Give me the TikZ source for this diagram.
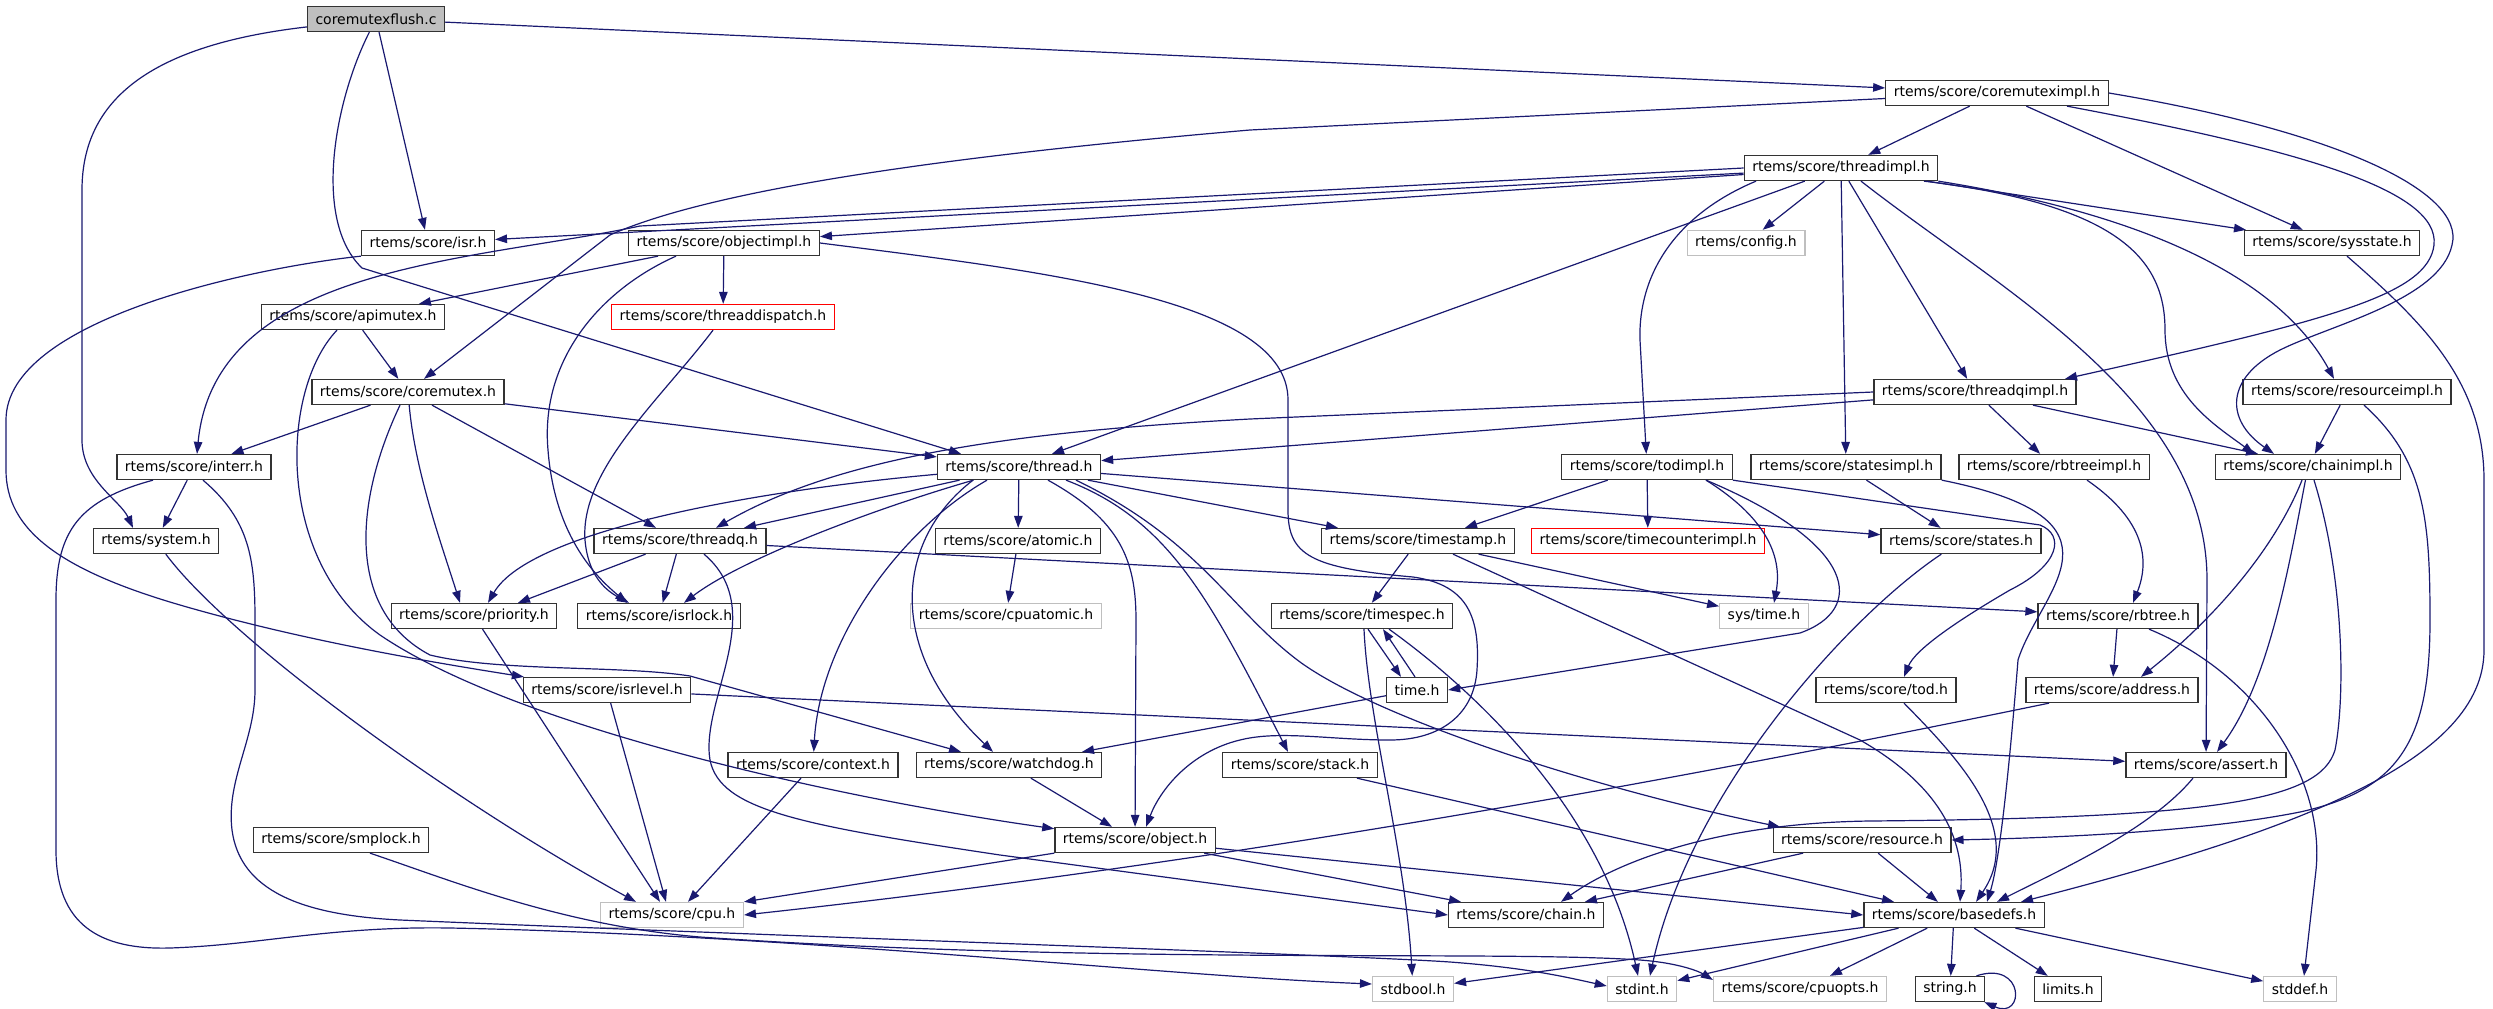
\documentclass[tikz,border=0pt]{standalone}
\usepackage{fontspec}
\setmainfont{DejaVu Sans}
\usetikzlibrary{arrows.meta}
\definecolor{edgeblue}{RGB}{25,25,112}
\definecolor{boxgrey}{RGB}{191,191,191}
\begin{document}
\begin{tikzpicture}[>={Triangle[length=12pt,width=8.5pt]},x=1pt,y=-1pt,
  inc/.style={draw=black!80,line width=1.3pt,fill=white,inner xsep=8pt,inner ysep=0pt,minimum height=25pt,font=\fontsize{14pt}{16pt}\selectfont},
  ext/.style={inc,draw=boxgrey},
  cut/.style={inc,draw=red},
  root/.style={inc,fill=boxgrey},
  dep/.style={->,draw=edgeblue,line width=1.2pt}]
\useasboundingbox[fill=white] (0,0) rectangle (2493,1009);
\node[root] (flush) at (376,19) {coremutexflush.c};
\node[inc] (cmi) at (1997,93) {rtems/score/coremuteximpl.h};
\node[inc] (thi) at (1841,168) {rtems/score/threadimpl.h};
\node[inc] (isr) at (428,243) {rtems/score/isr.h};
\node[inc] (obi) at (724,243) {rtems/score/objectimpl.h};
\node[ext] (cfg) at (1746,243) {rtems/config.h};
\node[inc] (sysst) at (2332,243) {rtems/score/sysstate.h};
\node[inc] (api) at (353,317) {rtems/score/apimutex.h};
\node[cut] (tdisp) at (723,317) {rtems/score/threaddispatch.h};
\node[inc] (coremutex) at (408,392) {rtems/score/coremutex.h};
\node[inc] (tqi) at (1975,392) {rtems/score/threadqimpl.h};
\node[inc] (rsi) at (2347,392) {rtems/score/resourceimpl.h};
\node[inc] (interr) at (194,467) {rtems/score/interr.h};
\node[inc] (thread) at (1019,467) {rtems/score/thread.h};
\node[inc] (todi) at (1647,467) {rtems/score/todimpl.h};
\node[inc] (statesi) at (1846,467) {rtems/score/statesimpl.h};
\node[inc] (rbti) at (2054,467) {rtems/score/rbtreeimpl.h};
\node[inc] (chaini) at (2308,467) {rtems/score/chainimpl.h};
\node[inc] (system) at (156,541) {rtems/system.h};
\node[inc] (threadq) at (680,541) {rtems/score/threadq.h};
\node[inc] (atomic) at (1018,541) {rtems/score/atomic.h};
\node[inc] (tstamp) at (1418,541) {rtems/score/timestamp.h};
\node[cut] (tcounter) at (1648,541) {rtems/score/timecounterimpl.h};
\node[inc] (states) at (1961,541) {rtems/score/states.h};
\node[inc] (prio) at (474,616) {rtems/score/priority.h};
\node[inc] (isrlock) at (659,616) {rtems/score/isrlock.h};
\node[ext] (cpuatomic) at (1006,616) {rtems/score/cpuatomic.h};
\node[inc] (tspec) at (1362,616) {rtems/score/timespec.h};
\node[ext] (systime) at (1764,616) {sys/time.h};
\node[inc] (rbtree) at (2118,616) {rtems/score/rbtree.h};
\node[inc] (isrlevel) at (607,690) {rtems/score/isrlevel.h};
\node[inc] (timeh) at (1417,690) {time.h};
\node[inc] (tod) at (1886,690) {rtems/score/tod.h};
\node[inc] (address) at (2112,690) {rtems/score/address.h};
\node[inc] (context) at (813,765) {rtems/score/context.h};
\node[inc] (watchdog) at (1009,765) {rtems/score/watchdog.h};
\node[inc] (stack) at (1300,765) {rtems/score/stack.h};
\node[inc] (assert) at (2206,765) {rtems/score/assert.h};
\node[inc] (smplock) at (341,840) {rtems/score/smplock.h};
\node[inc] (object) at (1135,840) {rtems/score/object.h};
\node[inc] (resource) at (1862,840) {rtems/score/resource.h};
\node[ext] (cpu) at (672,915) {rtems/score/cpu.h};
\node[inc] (chain) at (1526,915) {rtems/score/chain.h};
\node[inc] (basedefs) at (1954,915) {rtems/score/basedefs.h};
\node[ext] (stdbool) at (1413,989) {stdbool.h};
\node[ext] (stdint) at (1642,989) {stdint.h};
\node[ext] (cpuopts) at (1800,989) {rtems/score/cpuopts.h};
\node[inc] (string) at (1950,989) {string.h};
\node[inc] (limits) at (2068,989) {limits.h};
\node[ext] (stddef) at (2300,989) {stddef.h};
\draw[dep] (flush) .. controls (150,45) and (82,100) .. (82,190) -- (82,440) .. controls (82,480) and (120,500) .. ([xshift=-23pt]system.north);
\draw[dep] (flush) -- (isr);
\draw[dep] (flush) .. controls (335,100) and (312,220) .. (362,268) -- ([xshift=-58pt]thread.north);
\draw[dep] (flush) -- (cmi);
\draw[dep] (cmi) -- (1250,130) .. controls (900,160) and (700,195) .. (610,235) -- ([xshift=16pt]coremutex.north);
\draw[dep] (cmi) -- (thi);
\draw[dep] (cmi) -- (sysst);
\draw[dep] ([xshift=70pt]cmi.south) .. controls (2300,150) and (2440,190) .. (2434,245) .. controls (2428,295) and (2330,320) .. ([xshift=90pt]tqi.north);
\draw[dep] (cmi.east) .. controls (2330,130) and (2466,190) .. (2452,245) .. controls (2440,300) and (2330,325) .. (2280,350) .. controls (2225,378) and (2225,420) .. ([xshift=-34pt]chaini.north);
\draw[dep] (thi) -- (isr);
\draw[dep] (thi.west) -- (640,226) .. controls (470,262) and (215,265) .. ([xshift=3pt]interr.north);
\draw[dep] (thi) -- (obi);
\draw[dep] (thi) -- ([xshift=33pt]thread.north);
\draw[dep] ([xshift=-85pt]thi.south) .. controls (1675,215) and (1638,275) .. (1640,340) -- (todi);
\draw[dep] (thi) -- (cfg);
\draw[dep] (thi) -- (statesi);
\draw[dep] (thi) -- (tqi);
\draw[dep] ([xshift=20pt]thi.south) .. controls (2000,290) and (2207,400) .. (2207,580) -- (assert);
\draw[dep] ([xshift=83pt]thi.south) .. controls (2120,205) and (2165,260) .. (2165,330) .. controls (2165,395) and (2215,425) .. ([xshift=-54pt]chaini.north);
\draw[dep] (thi.south east) .. controls (2150,215) and (2280,280) .. ([xshift=-13pt]rsi.north);
\draw[dep] (thi) -- (sysst);
\draw[dep] (isr.south west) .. controls (250,268) and (6,320) .. (6,420) -- (6,470) .. controls (6,530) and (60,570) .. (180,605) .. controls (300,640) and (430,662) .. (isrlevel);
\draw[dep] (obi) -- (tdisp);
\draw[dep] (obi) -- (api);
\draw[dep] ([xshift=-48pt]obi.south) .. controls (600,290) and (540,360) .. (548,450) .. controls (555,540) and (600,580) .. ([xshift=-32pt]isrlock.north);
\draw[dep] (obi.east) .. controls (1050,272) and (1288,300) .. (1288,400) -- (1288,510) .. controls (1288,555) and (1310,568) .. (1413,577) .. controls (1470,585) and (1480,620) .. (1477,670) .. controls (1474,715) and (1440,740) .. (1390,740) .. controls (1330,740) and (1280,730) .. (1240,740) .. controls (1190,752) and (1160,790) .. ([xshift=11pt]object.north);
\draw[dep] (tdisp) .. controls (660,400) and (580,470) .. (585,540) .. controls (588,575) and (605,590) .. ([xshift=-30pt]isrlock.north);
\draw[dep] (api) -- (coremutex);
\draw[dep] ([xshift=-16pt]api.south) .. controls (280,390) and (275,560) .. (380,635) .. controls (520,730) and (850,800) .. (object);
\draw[dep] (coremutex) -- (interr);
\draw[dep] (coremutex) .. controls (415,470) and (440,540) .. ([xshift=-14pt]prio.north);
\draw[dep] (coremutex) -- (thread);
\draw[dep] ([xshift=24pt]coremutex.south) -- ([xshift=-24pt]threadq.north);
\draw[dep] ([xshift=-8pt]coremutex.south) .. controls (355,500) and (345,610) .. (430,655) .. controls (500,672) and (620,665) .. (690,676) -- ([xshift=-48pt]watchdog.north);
\draw[dep] (interr) -- (system);
\draw[dep] ([xshift=-41pt]interr.south) .. controls (80,500) and (56,530) .. (56,600) -- (56,850) .. controls (56,925) and (100,950) .. (170,948) .. controls (260,945) and (330,926) .. (450,928) .. controls (800,935) and (1150,975) .. ([yshift=5pt]stdbool.west);
\draw[dep] ([xshift=9pt]interr.south) .. controls (250,520) and (255,560) .. (255,620) -- (255,690) .. controls (255,740) and (226,780) .. (232,830) .. controls (240,890) and (300,915) .. (400,920) .. controls (750,935) and (1350,955) .. (1450,962) .. controls (1530,968) and (1570,978) .. ([yshift=3pt]stdint.west);
\draw[dep] ([xshift=29pt]smplock.south) .. controls (450,880) and (560,925) .. (700,937) .. controls (1100,965) and (1500,950) .. (1640,960) .. controls (1680,963) and (1700,972) .. ([yshift=9pt]cpuopts.west);
\draw[dep] (system) .. controls (230,640) and (450,800) .. ([xshift=-36pt]cpu.north);
\draw[dep] (prio) -- ([xshift=-12pt]cpu.north);
\draw[dep] (isrlevel) -- ([xshift=-6pt]cpu.north);
\draw[dep] (isrlevel) -- (assert);
\draw[dep] (context) -- ([xshift=16pt]cpu.north);
\draw[dep] (object.south west) -- (cpu.north east);
\draw[dep] (object) -- ([xshift=-65pt]chain.north);
\draw[dep] (object) -- (basedefs.west);
\draw[dep] ([xshift=-63pt]address.south) .. controls (1700,775) and (1250,860) .. (cpu.east);
\draw[dep] (threadq) -- ([xshift=44pt]prio.north);
\draw[dep] (threadq) -- (isrlock);
\draw[dep] (threadq) -- (rbtree);
\draw[dep] ([xshift=24pt]threadq.south) .. controls (770,610) and (700,700) .. (710,760) .. controls (720,810) and (800,825) .. (1000,855) -- (chain.west);
\draw[dep] (thread) .. controls (760,490) and (530,530) .. ([xshift=14pt]prio.north);
\draw[dep] (thread) -- ([xshift=64pt]threadq.north);
\draw[dep] (thread) .. controls (870,510) and (740,560) .. ([xshift=25pt]isrlock.north);
\draw[dep] ([xshift=-32pt]thread.south) .. controls (900,530) and (820,640) .. (context);
\draw[dep] ([xshift=-46pt]thread.south) .. controls (895,540) and (885,650) .. ([xshift=-16pt]watchdog.north);
\draw[dep] (thread) -- (atomic);
\draw[dep] ([xshift=29pt]thread.south) .. controls (1120,520) and (1136,560) .. (1136,620) -- (object);
\draw[dep] ([xshift=47pt]thread.south) .. controls (1170,520) and (1210,600) .. ([xshift=-12pt]stack.north);
\draw[dep] ([xshift=57pt]thread.south) .. controls (1200,540) and (1230,610) .. (1300,662) .. controls (1380,720) and (1600,790) .. ([xshift=-82pt]resource.north);
\draw[dep] (thread) -- ([xshift=-80pt]tstamp.north);
\draw[dep] (thread) -- (states);
\draw[dep] (tqi) -- (thread);
\draw[dep] (tqi.west) -- (1250,419) .. controls (1050,430) and (850,450) .. ([xshift=36pt]threadq.north);
\draw[dep] (tqi) -- (rbti);
\draw[dep] ([xshift=58pt]tqi.south) -- ([xshift=-50pt]chaini.north);
\draw[dep] (rsi) -- (chaini);
\draw[dep] ([xshift=17pt]rsi.south) .. controls (2425,460) and (2430,520) .. (2430,620) .. controls (2430,740) and (2400,790) .. (2300,812) .. controls (2200,832) and (2050,838) .. (resource.east);
\draw[dep] (sysst) .. controls (2420,320) and (2484,380) .. (2484,480) -- (2484,650) .. controls (2484,760) and (2300,830) .. ([xshift=67pt]basedefs.north);
\draw[dep] ([xshift=33pt]rbti.south) .. controls (2145,520) and (2150,560) .. ([xshift=15pt]rbtree.north);
\draw[dep] (rbtree) -- (address);
\draw[dep] ([xshift=31pt]rbtree.south) .. controls (2260,675) and (2325,780) .. (2316,870) -- ([xshift=4pt]stddef.north);
\draw[dep] ([xshift=-6pt]chaini.south) .. controls (2270,560) and (2200,630) .. ([xshift=29pt]address.north);
\draw[dep] (chaini) .. controls (2290,560) and (2270,680) .. ([xshift=11pt]assert.north);
\draw[dep] ([xshift=6pt]chaini.south) .. controls (2345,580) and (2345,700) .. (2335,750) .. controls (2320,800) and (2220,818) .. (1870,821) .. controls (1720,823) and (1620,860) .. ([xshift=35pt]chain.north);
\draw[dep] (todi) -- ([xshift=47pt]tstamp.north);
\draw[dep] (todi) -- (tcounter);
\draw[dep] ([xshift=59pt]todi.south) .. controls (1770,520) and (1782,560) .. ([xshift=10pt]systime.north);
\draw[dep] ([xshift=59pt]todi.south) .. controls (1860,545) and (1865,610) .. (1800,633) -- (timeh.east);
\draw[dep] (todi.south east) -- (2040,525) .. controls (2065,535) and (2060,565) .. (2010,590) .. controls (1955,622) and (1915,650) .. ([xshift=18pt]tod.north);
\draw[dep] (statesi) -- (states);
\draw[dep] (statesi.south east) .. controls (2140,520) and (2040,590) .. (2018,660) .. controls (2010,760) and (2000,860) .. ([xshift=33pt]basedefs.north);
\draw[dep] (states) .. controls (1850,615) and (1690,790) .. ([xshift=8pt]stdint.north);
\draw[dep] (tstamp) -- (tspec);
\draw[dep] (tstamp) -- (systime);
\draw[dep] ([xshift=35pt]tstamp.south) -- (1860,740) .. controls (1930,780) and (1965,830) .. ([xshift=6pt]basedefs.north);
\draw[dep] ([xshift=2pt]tspec.south) .. controls (1368,720) and (1405,850) .. (stdbool);
\draw[dep] ([xshift=6pt]tspec.south) -- ([xshift=-16pt]timeh.north);
\draw[dep] ([xshift=-2pt]timeh.north) -- ([xshift=21pt]tspec.south);
\draw[dep] ([xshift=27pt]tspec.south) .. controls (1460,680) and (1600,800) .. ([xshift=-4pt]stdint.north);
\draw[dep] (timeh) -- ([xshift=73pt]watchdog.north);
\draw[dep] (atomic) -- (cpuatomic);
\draw[dep] (watchdog) -- ([xshift=-23pt]object.north);
\draw[dep] (stack) -- ([xshift=-60pt]basedefs.north);
\draw[dep] ([xshift=-13pt]assert.south) .. controls (2150,830) and (2060,870) .. ([xshift=43pt]basedefs.north);
\draw[dep] ([xshift=18pt]tod.south) .. controls (1960,760) and (2025,830) .. ([xshift=22pt]basedefs.north);
\draw[dep] (resource) -- (basedefs);
\draw[dep] (resource) -- (chain);
\draw[dep] (basedefs) -- (stdbool);
\draw[dep] (basedefs) -- (stdint);
\draw[dep] (basedefs) -- ([xshift=30pt]cpuopts.north);
\draw[dep] (basedefs) -- (string);
\draw[dep] (basedefs) -- (limits);
\draw[dep] (basedefs) -- (stddef);
\draw[dep] ([xshift=-9pt]string.north east) .. controls (2025,960) and (2025,1020) .. ([xshift=-1pt]string.south east);
\end{tikzpicture}
\end{document}
